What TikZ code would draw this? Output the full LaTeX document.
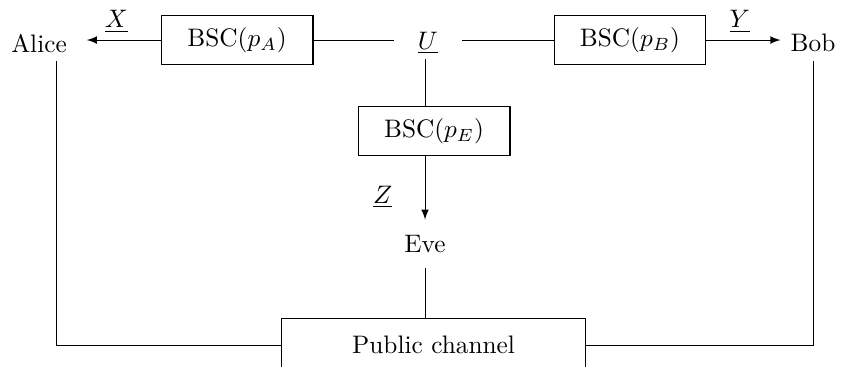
\documentclass[tikz,border=0pt]{standalone}
\usepackage{tikz}
\usepackage{amsmath}

\begin{document}
\begin{tikzpicture}[>=latex,
        chan/.style={draw, minimum width=2.11cm, minimum height=0.67cm}]
        \useasboundingbox (0,0) rectangle (11.708,-5.097);
        \node[inner xsep=0.27cm] (Alice) at (0.542,-0.6) {Alice};
        \node[chan] (bscA) at (3.292,-0.556) {BSC$(p_A)$};
        \node[inner xsep=0.33cm, inner ysep=0.06cm] (U) at (5.944,-0.6) {$\underline{U}$};
        \node[chan] (bscB) at (8.75,-0.556) {BSC$(p_B)$};
        \node[inner xsep=0.135cm] (Bob) at (11.292,-0.6) {Bob};
        \node[chan] (bscE) at (6.028,-1.819) {BSC$(p_E)$};
        \node[inner ysep=0.21cm] (Eve) at (5.903,-3.389) {Eve};
        \node[draw, minimum width=4.21cm, minimum height=0.75cm] (pub) at (6.021,-4.792) {Public channel};
        \draw[->] (bscA.west) -- node[above=-0.02cm, pos=0.6] {$\underline{X}$} (bscA.west -| Alice.east);
        \draw (bscA.east) -- (bscA.east -| U.west);
        \draw (U.east |- bscB.west) -- (bscB.west);
        \draw[->] (bscB.east) -- node[above=-0.02cm, pos=0.45] {$\underline{Y}$} (bscB.east -| Bob.west);
        \draw (U.south -| Eve) -- (bscE.north -| Eve);
        \draw[->] (bscE.south -| Eve) -- node[left=0.33cm, pos=0.65] {$\underline{Z}$} (Eve.north);
        \draw (Eve.south) -- (pub.north -| Eve);
        \draw ([xshift=0.24cm]Alice.south) |- (pub.west);
        \draw (Bob.south) |- (pub.east);
    \end{tikzpicture}
\end{document}
